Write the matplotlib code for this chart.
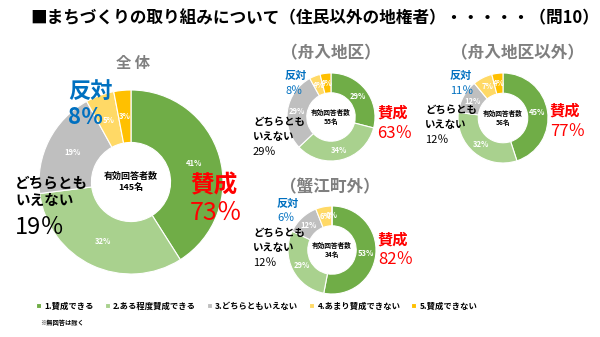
import numpy as np
import matplotlib.pyplot as plt

plt.rcParams['font.family'] = ['Noto Sans CJK JP', 'DejaVu Sans']

# データ
categories = ['1.賛成できる', '2.ある程度賛成できる', '3.どちらともいえない',
              '4.あまり賛成できない', '5.賛成できない']
colors = ['#70AD47', '#A9D18E', '#BFBFBF', '#FFD966', '#FFC000']

groups = ['全 体', '（舟入地区）', '（舟入地区以外）', '（蟹江町外）']
totals = [145, 55, 56, 34]
share_all = [41, 32, 19, 5, 3]
share_funairi = [29, 34, 29, 4, 4]
share_other = [45, 32, 12, 7, 4]
share_outside = [53, 29, 12, 6, 0]
agree = [73, 63, 77, 82]
neutral = [19, 29, 12, 12]
oppose = [8, 8, 11, 6]

shares = [share_all, share_funairi, share_other, share_outside]

W, H = 600, 337

# レイアウト（ピクセル, 左上原点）
layout = [
    dict(c=(131, 182), r=92, w=0.57, pct=5.5, ctr=6.5, title=(133, 63, 11),
         opp=(68, 91, 117, 16), agr=(190, 185, 213, 17),
         neu=(15, 183, 200, 10.5, 227, 17)),
    dict(c=(331, 117), r=44, w=0.45, pct=5.5, ctr=4.8, title=(331, 53, 12),
         opp=(285, 76, 91, 8), agr=(377, 113, 133, 11),
         neu=(253, 122, 137, 7.5, 152, 8)),
    dict(c=(503, 118), r=45, w=0.45, pct=5.5, ctr=4.8, title=(517, 53, 12),
         opp=(450, 76, 91, 8), agr=(550, 111, 131, 11),
         neu=(425, 110, 125, 7.5, 140, 8)),
    dict(c=(332, 250), r=44, w=0.45, pct=5.5, ctr=4.8, title=(330, 187, 12),
         opp=(277, 203, 218, 8), agr=(378, 240, 260, 11),
         neu=(253, 233, 248, 7.5, 263, 8)),
]

fig = plt.figure(figsize=(6, 3.37), dpi=100)
ax = fig.add_axes([0, 0, 1, 1])

handles = None
for i, vals in enumerate(shares):
    lay = layout[i]
    cx, cy = lay['c']
    r = lay['r']
    w = lay['w']
    wedges, _, autotexts = ax.pie(
        vals, colors=colors, startangle=90, counterclock=False, radius=r,
        center=(cx, H - cy),
        wedgeprops=dict(width=r * w, edgecolor='white', linewidth=0.8),
        autopct=lambda p: f'{p:.0f}%', pctdistance=1 - w / 2,
        textprops=dict(color='white', fontsize=lay['pct'], weight='bold'))
    if handles is None:
        handles = wedges

    # 中央の文字
    ax.text(cx, H - cy, f'有効回答者数\n{totals[i]}名', ha='center', va='center',
            fontsize=lay['ctr'], weight='bold', linespacing=1.2)

    # 見出し
    tx, ty, tfs = lay['title']
    ax.text(tx, H - ty, groups[i], ha='center', va='center', fontsize=tfs,
            weight='bold', color='#7F7F7F')

    # 反対
    ox, oy1, oy2, ofs = lay['opp']
    ax.text(ox, H - oy1, '反対', ha='left', va='center', fontsize=ofs,
            weight='bold', color='#0070C0')
    ax.text(ox, H - oy2, f'{oppose[i]}％', ha='left', va='center', fontsize=ofs,
            weight='bold' if i == 0 else 'normal', color='#0070C0')

    # 賛成
    ax_, ay1, ay2, afs = lay['agr']
    ax.text(ax_, H - ay1, '賛成', ha='left', va='center', fontsize=afs,
            weight='bold', color='#FF0000')
    ax.text(ax_, H - ay2, f'{agree[i]}％', ha='left', va='center', fontsize=afs + 1,
            color='#FF0000')

    # どちらともいえない
    nx, ny1, ny2, nfs, ny3, nfs2 = lay['neu']
    ax.text(nx, H - ny1, 'どちらとも', ha='left', va='center', fontsize=nfs,
            weight='bold', color='black')
    ax.text(nx, H - ny2, 'いえない', ha='left', va='center', fontsize=nfs,
            weight='bold', color='black')
    ax.text(nx, H - ny3, f'{neutral[i]}％', ha='left', va='center', fontsize=nfs2,
            color='black')

# タイトル
ax.text(30, H - 18, '■まちづくりの取り組みについて（住民以外の地権者）・・・・・（問10）',
        ha='left', va='center', fontsize=12, weight='bold')

# 凡例
ax.legend(handles, categories, ncol=5, loc='center left',
          bbox_to_anchor=(36 / W, 1 - 306 / H), frameon=False,
          prop=dict(size=6.0, weight='bold'), handlelength=0.6, handleheight=0.6,
          handletextpad=0.4, columnspacing=1.3, borderaxespad=0, borderpad=0)

ax.text(40, H - 323, '※無回答は除く', ha='left', va='center', fontsize=4.5, weight='bold')

ax.set_xlim(0, W)
ax.set_ylim(0, H)
ax.set_aspect('equal')
ax.axis('off')

plt.savefig('out.png', dpi=100)
